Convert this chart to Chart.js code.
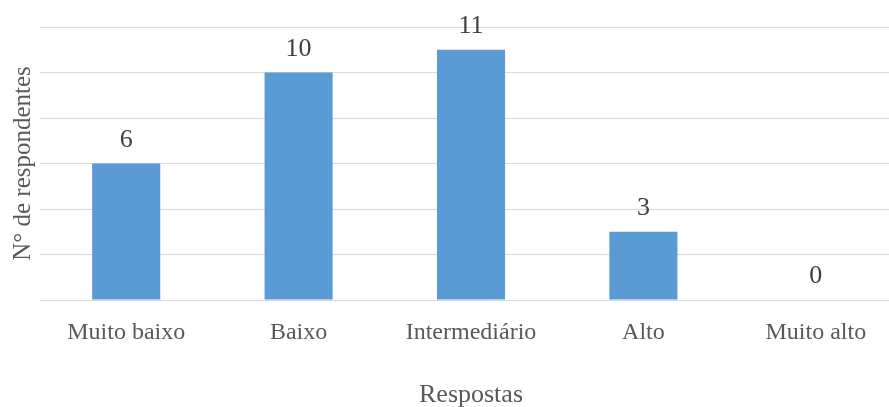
<!DOCTYPE html>
<html>
<head>
<meta charset="utf-8">
<script src="https://cdn.jsdelivr.net/npm/chart.js@4"></script>
<style>
  html, body { margin: 0; padding: 0; background: #fff; overflow: hidden; }
  #wrap { width: 902px; height: 407px; }
</style>
</head>
<body>
<div id="wrap"><canvas id="grafico"></canvas></div>
<script>
// Respostas e número de respondentes
const categorias = ['Muito baixo', 'Baixo', 'Intermediário', 'Alto', 'Muito alto'];
const respondentes = [6, 10, 11, 3, 0];
const eixoY = { min: 0, max: 12, passo: 2 };

const fonte = '"Liberation Serif", "Times New Roman", serif';

// Rótulos de valor acima de cada barra
const rotulosValor = {
  id: 'rotulosValor',
  afterDatasetsDraw(chart) {
    const ctx = chart.ctx;
    const meta = chart.getDatasetMeta(0);
    ctx.save();
    ctx.font = '26px ' + fonte;
    ctx.fillStyle = '#404040';
    ctx.textAlign = 'center';
    ctx.textBaseline = 'alphabetic';
    meta.data.forEach((barra, i) => {
      ctx.fillText(String(respondentes[i]), barra.x, barra.y - 17);
    });
    ctx.restore();
  }
};

new Chart(document.getElementById('grafico'), {
  type: 'bar',
  data: {
    labels: categorias,
    datasets: [{
      data: respondentes,
      backgroundColor: '#5B9BD5',
      borderWidth: 0,
      barPercentage: 0.79,
      categoryPercentage: 0.5
    }]
  },
  options: {
    responsive: true,
    maintainAspectRatio: false,
    animation: false,
    layout: { padding: { top: 27, right: 0, bottom: 0, left: 0 } },
    plugins: {
      legend: { display: false },
      tooltip: { enabled: false }
    },
    scales: {
      x: {
        grid: { display: false },
        border: { display: false },
        ticks: {
          color: '#595959',
          font: { family: fonte, size: 24 },
          padding: 10,
          maxRotation: 0
        },
        title: {
          display: true,
          text: 'Respostas',
          color: '#595959',
          font: { family: fonte, size: 26 },
          padding: { top: 0, bottom: -4 }
        },
        afterFit(scale) { scale.height = 107; }
      },
      y: {
        min: eixoY.min,
        max: eixoY.max,
        ticks: { display: false, stepSize: eixoY.passo },
        grid: { color: '#d9d9d9', lineWidth: 1, drawTicks: false },
        border: { display: false },
        title: {
          display: true,
          text: 'N° de respondentes',
          color: '#595959',
          font: { family: fonte, size: 25 },
          padding: { top: 8, bottom: 0 }
        },
        afterFit(scale) { scale.width = 40; }
      }
    }
  },
  plugins: [rotulosValor]
});
</script>
</body>
</html>
